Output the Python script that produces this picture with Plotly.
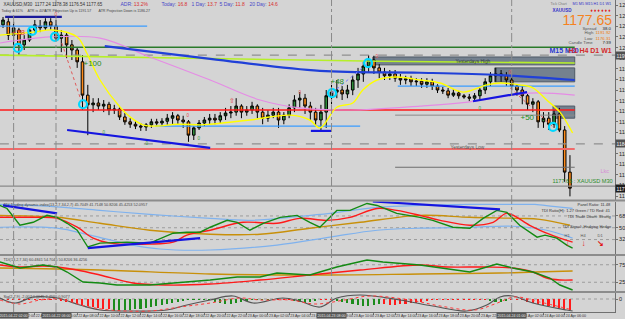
import plotly.graph_objects as go

BG = "#d4d4d4"
FONT = "Liberation Sans"

# ---------------- price data (XAUUSD, M30) ----------------
candle_idx = list(range(108))
opens = [1204.6, 1205.1, 1202.9, 1203.75, 1201.3, 1202.1, 1203.75, 1204.4, 1204.1, 1205.1,
         1204.4, 1202.4, 1202.9, 1201.3, 1200.45, 1198.5, 1193.0, 1191.4, 1191.7, 1191.2,
         1191.5, 1190.55, 1190.7, 1189.4, 1188.6, 1188.2, 1187.9, 1187.75, 1188.1, 1188.6,
         1188.4, 1188.7, 1189.2, 1189.6, 1188.9, 1188.6, 1186.4, 1187.6, 1188.4, 1188.9,
         1189.2, 1188.9, 1189.6, 1190.05, 1190.2, 1191.2, 1190.2, 1190.55, 1191.2, 1190.2,
         1189.2, 1189.7, 1190.2, 1188.9, 1189.7, 1190.9, 1192.2, 1192.5, 1191.2, 1190.2,
         1188.9, 1190.2, 1192.9, 1193.5, 1193.85, 1193.2, 1193.85, 1195.5, 1196.5, 1197.8,
         1198.8, 1197.5, 1196.8, 1196.2, 1196.5, 1195.8, 1195.5, 1195.7, 1195.2, 1195.3,
         1194.8, 1195.2, 1194.5, 1193.85, 1193.7, 1193.0, 1193.35, 1192.9, 1192.7, 1192.5,
         1192.9, 1193.85, 1195.2, 1196.2, 1196.5, 1196.2, 1195.5, 1194.5, 1193.85, 1192.9,
         1191.5, 1191.9, 1188.6, 1189.2, 1188.2, 1189.9, 1187.25, 1180.3]
closes = [1205.4, 1202.9, 1204.1, 1201.3, 1202.1, 1203.75, 1204.6, 1204.1, 1205.1, 1204.4,
          1202.4, 1202.9, 1201.3, 1200.45, 1198.5, 1193.0, 1191.4, 1191.7, 1191.2, 1191.5,
          1190.55, 1190.7, 1189.4, 1188.6, 1188.2, 1187.9, 1187.75, 1188.1, 1188.6, 1188.4,
          1188.7, 1189.2, 1189.6, 1188.9, 1188.6, 1186.4, 1187.6, 1188.4, 1188.9, 1189.2,
          1188.9, 1189.6, 1190.05, 1190.2, 1191.2, 1190.2, 1190.55, 1191.2, 1190.2, 1189.2,
          1189.7, 1190.2, 1188.9, 1189.7, 1190.9, 1192.2, 1192.5, 1191.2, 1190.2, 1188.9,
          1190.2, 1192.9, 1193.5, 1193.85, 1193.2, 1193.85, 1195.5, 1196.5, 1197.8, 1198.8,
          1197.5, 1196.8, 1196.2, 1196.5, 1195.8, 1195.5, 1195.7, 1195.2, 1195.3, 1194.8,
          1195.2, 1194.5, 1193.85, 1193.7, 1193.0, 1193.35, 1192.9, 1192.7, 1192.5, 1192.9,
          1193.85, 1195.2, 1196.2, 1196.5, 1196.2, 1195.5, 1194.5, 1193.85, 1192.9, 1191.5,
          1191.9, 1188.6, 1189.2, 1188.2, 1189.9, 1187.25, 1180.3, 1177.65]
highs = [1205.9, 1205.7, 1205.1, 1204.1, 1202.9, 1204.1, 1205.4, 1205.4, 1205.7, 1205.7,
         1205.4, 1203.75, 1203.4, 1202.1, 1200.8, 1199.6, 1194.7, 1192.5, 1192.5, 1192.2,
         1191.9, 1191.4, 1191.0, 1190.05, 1189.2, 1188.7, 1188.4, 1188.4, 1189.1, 1189.1,
         1189.2, 1189.9, 1190.2, 1189.9, 1189.6, 1188.9, 1187.9, 1188.9, 1189.4, 1189.9,
         1189.9, 1190.2, 1190.9, 1191.2, 1192.5, 1191.5, 1191.2, 1191.9, 1191.5, 1190.9,
         1190.55, 1190.9, 1190.9, 1190.2, 1191.5, 1193.0, 1193.5, 1193.2, 1191.9, 1190.9,
         1191.4, 1193.85, 1194.7, 1195.5, 1194.5, 1194.7, 1196.2, 1197.5, 1198.5, 1199.6,
         1199.5, 1198.1, 1197.5, 1197.15, 1197.15, 1196.5, 1196.2, 1196.2, 1195.8, 1195.8,
         1195.8, 1195.7, 1194.8, 1194.35, 1194.2, 1194.0, 1193.7, 1193.2, 1193.2, 1193.35,
         1194.2, 1195.8, 1196.8, 1197.5, 1197.15, 1196.8, 1196.2, 1194.8, 1194.5, 1193.2,
         1192.5, 1192.2, 1190.2, 1190.2, 1190.55, 1190.9, 1187.9, 1183.1]
lows = [1204.1, 1202.1, 1201.3, 1199.6, 1200.45, 1201.8, 1203.3, 1203.4, 1203.75, 1203.75,
        1202.1, 1200.1, 1199.1, 1198.8, 1197.5, 1190.55, 1186.4, 1190.2, 1190.55, 1190.2,
        1189.7, 1189.9, 1188.9, 1188.1, 1187.6, 1187.4, 1187.1, 1187.1, 1187.6, 1187.9,
        1187.9, 1188.1, 1188.2, 1188.2, 1187.6, 1185.3, 1185.6, 1187.25, 1187.9, 1188.2,
        1188.2, 1188.4, 1188.9, 1189.2, 1189.6, 1189.2, 1189.6, 1189.9, 1189.2, 1188.2,
        1188.6, 1189.2, 1187.6, 1188.2, 1189.2, 1190.2, 1190.9, 1189.9, 1188.9, 1187.9,
        1187.25, 1187.6, 1191.5, 1192.5, 1192.2, 1192.5, 1193.0, 1194.2, 1195.2, 1196.8,
        1196.5, 1195.8, 1195.5, 1195.5, 1195.2, 1194.7, 1194.8, 1194.5, 1194.5, 1194.2,
        1194.2, 1193.85, 1193.35, 1193.2, 1192.5, 1192.7, 1192.4, 1192.4, 1192.0, 1192.0,
        1192.2, 1193.2, 1194.5, 1195.2, 1195.2, 1194.5, 1193.85, 1192.9, 1191.5, 1190.55,
        1190.2, 1187.6, 1187.6, 1187.25, 1187.6, 1186.9, 1178.7, 1176.3]

# time axis labels
tick_idx = [2, 6, 10, 14, 18, 22, 26, 30, 34, 38, 42, 46, 50, 54, 58, 62, 66, 70, 74, 78,
            82, 86, 90, 94, 98, 102, 106]
tick_labels = ["22 Apr 02:00", "22 Apr 04:00", "22 Apr 06:00", "22 Apr 08:00", "22 Apr 10:00",
               "22 Apr 12:00", "22 Apr 14:00", "22 Apr 16:00", "22 Apr 18:00", "22 Apr 20:00",
               "22 Apr 22:00", "23 Apr 00:00", "23 Apr 02:00", "23 Apr 04:00", "23 Apr 06:00",
               "23 Apr 08:00", "23 Apr 10:00", "23 Apr 12:00", "23 Apr 14:00", "23 Apr 16:00",
               "23 Apr 18:00", "23 Apr 20:00", "23 Apr 22:00", "24 Apr 00:00", "24 Apr 02:00",
               "24 Apr 04:00", "24 Apr 06:00"]
vline_idx = [2, 10, 62, 96]
vline_labels = ["2015.04.22 02:00", "2015.04.22 06:00", "2015.04.23 08:00", "2015.04.24 01:00"]

# horizontal levels (price) and their spans (candle index)
top_blue_level, top_blue_span = 1205.9, [0.4, 11.1]
top_sky_level, top_sky_span = 1204.4, [-0.6, 27.2]
green_level, green_span = 1200.9, [-0.6, 107.9]
yhigh_dash_level = 1199.6
red_level, red_span = 1190.55, [-0.6, 107.9]
gray_mid_level, gray_mid_span = 1189.7, [74.0, 107.9]
sky_mid_level, sky_mid_span = 1187.9, [28.7, 67.4]
sky_right_level, sky_right_span = 1194.5, [74.5, 107.9]
ylow_dash_level = 1184.95
salmon_level, salmon_span = 1184.1, [-0.6, 107.9]
dgray_level, dgray_span = 1181.1, [74.0, 107.9]
bid_level = 1178.0

# moving averages on price
lime_x = [-0.6, 39.1, 71.1, 107.9]
lime_y = [1199.6, 1199.1, 1198.6, 1198.3]
blue_ma_x = [19.2, 39.1, 59.8, 78.7, 93.8, 107.9]
blue_ma_y = [1201.1, 1199.0, 1197.0, 1196.7, 1196.3, 1195.5]
pink_ma_x = [-0.6, 8.9, 18.3, 27.7, 39.1, 48.5, 56.0, 65.5, 78.7, 88.1, 99.4, 107.9]
pink_ma_y = [1201.6, 1202.6, 1202.4, 1199.3, 1195.5, 1192.2, 1190.9, 1190.55, 1191.2, 1191.9,
             1193.35, 1193.0]
yellow_ma_x = [-0.6, 5.7, 9.4, 14.0, 15.8, 18.3, 22.1, 24.0, 26.4, 29.1, 32.8, 37.2, 39.1, 46.6,
               54.2, 57.9, 59.8, 63.0, 66.0, 67.9, 70.6, 74.3, 78.7, 82.5, 86.8, 91.3, 93.8,
               97.5, 100.0, 102.6, 105.1, 107.5]
yellow_ma_y = [1202.9, 1203.4, 1203.75, 1202.6, 1199.95, 1195.5, 1191.0, 1189.4, 1188.1, 1187.9,
               1188.2, 1188.1, 1188.2, 1188.9, 1189.7, 1188.9, 1187.6, 1191.0, 1191.7, 1193.85,
               1195.5, 1196.0, 1195.5, 1195.0, 1193.5, 1194.7, 1195.0, 1194.7, 1194.2, 1192.2,
               1190.2, 1186.75]

# trendlines
tl_low_x, tl_low_y = [12.1, 39.1], [1187.25, 1184.3]
tl_box_x, tl_box_y = [58.1, 61.9], [1187.1, 1187.1]
tl_right_x, tl_right_y = [88.7, 98.9], [1192.0, 1193.5]
zz1_x, zz1_y = [11.1, 14.9], [1201.6, 1191.7]
zz2_x, zz2_y = [62.1, 68.9], [1193.35, 1198.3]
zz3_x, zz3_y = [95.7, 103.8], [1194.2, 1187.75]

# zones
zones_x0 = [69.8, 92.8, 103.8]
zones_x1 = [107.9, 107.9, 107.9]
zones_lo = [1198.0, 1195.2, 1189.2]
zones_hi = [1199.3, 1197.5, 1191.2]

# swing markers
swing_x = [2.8, 5.5, 9.8, 15.1, 62.1, 68.9, 103.8]
swing_y = [1200.8, 1203.6, 1202.6, 1191.5, 1193.35, 1198.3, 1187.75]
gain_text = ["+28", "+100", "+48", "+50"]
gain_x = [3.0, 17.0, 63.2, 98.9]
gain_y = [1203.4, 1198.3, 1195.3, 1189.4]
red_mark_x = [22.0, 35.0, 56.0, 70.6, 95.7, 10.0]
red_mark_y = [1190.2, 1189.7, 1193.5, 1199.4, 1196.8, 1206.4]
green_mark_x = [19.1, 27.2, 37.0, 90.0]
green_mark_y = [1186.9, 1185.1, 1185.9, 1190.9]

# ---------------- TDI sub window ----------------
tdi_green_x = [-0.6, 0.75, 3.2, 5.7, 8.3, 10.2, 12.1, 14.0, 16.0, 18.3, 23.4, 27.7, 32.1, 34.7,
               37.2, 39.1, 42.3, 44.2, 46.6, 49.1, 52.3, 55.5, 57.9, 59.8, 63.0, 65.5, 68.7,
               70.6, 74.3, 78.7, 81.1, 84.9, 88.1, 90.6, 93.2, 95.1, 97.5, 100.8, 102.3, 104.5,
               106.4, 107.5]
tdi_green_y = [84.0, 79.4, 53.8, 58.3, 68.9, 65.9, 56.8, 46.2, 20.6, 26.6, 28.1, 26.6, 41.7, 43.2,
               43.2, 50.8, 61.3, 58.3, 46.2, 56.8, 65.9, 68.9, 58.3, 50.8, 76.4, 76.4, 87.0, 84.0,
               71.9, 65.9, 61.3, 50.8, 49.3, 64.3, 76.4, 73.4, 53.8, 35.7, 38.7, 34.2, 23.6, 19.1]
tdi_red_x = [-0.6, 5.7, 10.2, 14.0, 17.0, 20.2, 27.7, 32.1, 34.7, 39.1, 45.3, 51.7, 56.0, 61.1,
             65.5, 70.6, 74.3, 78.7, 82.5, 88.1, 92.5, 95.1, 99.4, 102.6, 105.1, 107.5]
tdi_red_y = [65.9, 65.9, 64.3, 50.8, 34.2, 26.6, 25.1, 28.1, 38.7, 46.2, 58.3, 56.8, 64.3, 61.3,
             65.9, 79.4, 76.4, 68.9, 61.3, 53.8, 58.3, 71.9, 53.8, 41.7, 34.2, 28.1]
tdi_base_x = [-0.6, 10.2, 18.3, 27.7, 39.1, 48.5, 57.9, 67.4, 78.7, 88.1, 97.5, 101.3, 107.0]
tdi_base_y = [68.9, 65.9, 56.8, 46.2, 40.2, 40.2, 49.3, 58.3, 68.9, 65.9, 64.3, 62.8, 53.8]
tdi_up_x = [-0.6, 8.9, 18.3, 27.7, 39.1, 46.6, 56.0, 61.7, 70.6, 78.7, 88.1, 97.5, 100.4, 103.8,
            107.5]
tdi_up_y = [85.5, 82.5, 76.4, 70.4, 64.3, 61.3, 67.4, 71.9, 80.9, 84.0, 85.5, 85.5, 85.5, 82.5,
            79.4]
tdi_dn_x = [-0.6, 10.2, 16.4, 24.5, 29.6, 39.1, 51.7, 61.7, 70.6, 78.7, 88.1, 96.2, 102.6, 107.5]
tdi_dn_y = [50.8, 49.3, 38.7, 23.6, 17.6, 16.1, 23.6, 35.7, 46.2, 49.3, 50.8, 52.3, 46.2, 34.2]
tdi_tl1_x, tdi_tl1_y = [0.0, 10.2], [84.0, 71.9]
tdi_tl2_x, tdi_tl2_y = [16.0, 37.2], [19.1, 34.2]
tdi_tl3_x, tdi_tl3_y = [69.8, 93.8], [90.0, 77.9]
tdi_levels = [68, 50, 32]

# ---------------- second oscillator ----------------
osc_base_x = [-0.6, 18.3, 39.1, 57.9, 78.7, 93.8, 107.5]
osc_base_y = [65.7, 60.0, 48.6, 45.7, 48.6, 51.4, 57.1]
osc_red_x = [-0.6, 3.2, 7.5, 10.2, 14.0, 18.3, 24.5, 30.9, 39.1, 48.5, 57.9, 67.4, 78.7, 83.8,
             91.3, 96.2, 100.0, 102.6, 105.1, 107.5]
osc_red_y = [74.3, 68.6, 71.4, 68.6, 60.0, 45.7, 22.9, 17.1, 20.0, 31.4, 45.7, 60.0, 74.3, 68.6,
             68.6, 65.7, 54.3, 37.1, 31.4, 31.4]
osc_green_x = [-0.6, 1.3, 3.2, 7.5, 10.2, 12.1, 15.1, 18.3, 21.5, 27.7, 32.8, 39.1, 44.2, 48.5,
               51.7, 57.9, 63.0, 68.7, 71.7, 78.7, 88.1, 91.3, 93.2, 96.2, 100.0, 103.2, 105.1,
               107.5]
osc_green_y = [82.9, 74.3, 65.7, 74.3, 68.6, 54.3, 25.7, 22.9, 17.1, 17.1, 22.9, 31.4, 40.0, 40.0,
               51.4, 45.7, 68.6, 88.6, 82.9, 74.3, 54.3, 68.6, 77.1, 65.7, 54.3, 37.1, 17.1, 2.9]
osc_levels = [75, 25]

# ---------------- histogram sub window ----------------
hist_vals = [-1, -1, -1, -1, -1, -1, -1, -1, -1, -1, -1,
             -2, -3, -4, -5, -6, -7, -8, -9, -10, -10,
             -12, -12, -11, -11, -10, -10, -9, -8,
             -7, -6, -5, -4, -3, -2,
             -1, -1, -1, -1, -1,
             -3, -4, -5, -5, -4, -3, -2, -1,
             -1, -1, -1, -1, -1, -1,
             -1, -2, -3, -4, -3, -2,
             -1, -1, -1,
             -2, -3, -4, -5, -6, -7, -7, -6, -5,
             -5, -6, -6, -5, -5, -4, -4, -3, -2, -1,
             -1, -1, -1, -1, -1, -1, -1, -1, -1, -1,
             -2, -3, -3, -2,
             -1, -1, -1,
             -3, -4, -5, -6, -7, -8, -9, -10, -11]
hist_rising = ([0] * 21 + [1] * 8 + [1] * 6 + [1] * 5 + [1] * 8 + [1] * 4 + [0] * 2 +
               [0] + [1] * 5 + [0] * 3 + [1] * 9 + [0] * 10 + [0] * 10 + [1] * 4 + [0] * 3 +
               [0] * 9)
sig_x = [-0.6, 2.3, 5.7, 10.2, 14.5, 18.3, 24.5, 30.9, 34.7, 39.1, 43.4, 47.2, 52.8, 56.0, 59.8,
         63.0, 67.4, 74.9, 81.1, 87.5, 91.3, 93.8, 96.2, 100.0, 106.4, 107.5]
sig_y = [1, -4, 2, 1, -6, -11, -12, -11, -6, -1, 3, -4, 1, -2, -8, 1, 4, -1, -7, -12, -6, 2, 3,
         -4, -11, -12]
sig2_x = [-0.6, 3.2, 7.0, 10.8, 15.5, 20.2, 27.7, 33.4, 39.1, 44.7, 48.5, 54.2, 58.9, 64.5, 69.2,
          76.8, 82.5, 89.1, 92.8, 96.6, 101.3, 107.5]
sig2_y = [-1, -5, -1, 0, -7, -11, -12, -8, -4, 1, -1, -1, -5, -1, 3, -1, -7, -11, -5, 2, -3, -11]

# ---------------- figure ----------------
PW, PH = 615.0, 312.0


def px(x):
    return x / PW


def py(y):
    return (PH - y) / PH


fig = go.Figure()


def line(xs, ys, color, width=1.0, dash="solid", yaxis="y", shape="linear"):
    fig.add_trace(go.Scatter(x=xs, y=ys, mode="lines", xaxis="x", yaxis=yaxis,
                             line=dict(color=color, width=width, dash=dash, shape=shape),
                             hoverinfo="skip", showlegend=False))


def hline(level, span, color, width=1.0, dash="solid"):
    line(span, [level, level], color, width, dash)


shapes = []
for x0, x1, lo, hi in zip(zones_x0, zones_x1, zones_lo, zones_hi):
    shapes.append(dict(type="rect", xref="x", yref="y", x0=x0, x1=x1, y0=lo, y1=hi,
                       fillcolor="#74818f", line=dict(color="#4f5a66", width=1), layer="below"))

hline(top_sky_level, top_sky_span, "#3a9cff", 1.3)
hline(top_blue_level, top_blue_span, "#1a1a9a", 2.2)
hline(green_level, green_span, "#2a7a2a", 1.6)
hline(yhigh_dash_level, [-0.6, 115.5], "#8f8f8f", 1.2, "dash")
line(lime_x, lime_y, "#b6ef2a", 1.6)
hline(red_level, red_span, "#ff1a1a", 1.5)
hline(gray_mid_level, gray_mid_span, "#8a8a8a", 1.0)
hline(sky_mid_level, sky_mid_span, "#3a9cff", 1.3)
hline(sky_right_level, sky_right_span, "#3a9cff", 1.3)
hline(ylow_dash_level, [-0.6, 115.5], "#8f8f8f", 1.2, "dash")
hline(salmon_level, salmon_span, "#f06a6a", 2.0)
hline(dgray_level, dgray_span, "#6e6e6e", 1.2)
hline(bid_level, [-0.6, 115.5], "#8a8a8a", 1.2)
line(pink_ma_x, pink_ma_y, "#e58ce5", 1.2, shape="spline")
line(blue_ma_x, blue_ma_y, "#2040d8", 2.2, shape="spline")
line(yellow_ma_x, yellow_ma_y, "#ffff00", 1.4, shape="spline")
line(zz1_x, zz1_y, "#e05a5a", 1.0, "dot")
line(zz2_x, zz2_y, "#7a7aff", 1.0, "dot")
line(zz3_x, zz3_y, "#e05a5a", 1.0, "dot")
line(tl_low_x, tl_low_y, "#1515e0", 2.2)
line(tl_box_x, tl_box_y, "#1515e0", 2.2)
line(tl_right_x, tl_right_y, "#1515e0", 2.2)

fig.add_trace(go.Candlestick(
    x=candle_idx, open=opens, high=highs, low=lows, close=closes, xaxis="x", yaxis="y",
    increasing=dict(line=dict(color="#000000", width=1), fillcolor="#2e8b3a"),
    decreasing=dict(line=dict(color="#000000", width=1), fillcolor="#ff8c1a"),
    whiskerwidth=0, hoverinfo="skip", showlegend=False))

fig.add_trace(go.Scatter(x=swing_x, y=swing_y, mode="markers", xaxis="x", yaxis="y",
                         marker=dict(symbol="circle-open", size=8, color="#00d8ff",
                                     line=dict(width=2.2, color="#00d8ff")),
                         hoverinfo="skip", showlegend=False))

# TDI window
for lv in tdi_levels:
    shapes.append(dict(type="line", xref="paper", yref="y2", x0=0, x1=1, y0=lv, y1=lv,
                       line=dict(color="#9c9c9c", width=1, dash="dot"), layer="below"))
line(tdi_up_x, tdi_up_y, "#7fb2ee", 1.2, yaxis="y2", shape="spline")
line(tdi_dn_x, tdi_dn_y, "#7fb2ee", 1.2, yaxis="y2", shape="spline")
line(tdi_base_x, tdi_base_y, "#c8900a", 1.4, yaxis="y2", shape="spline")
line(tdi_red_x, tdi_red_y, "#ff1a1a", 1.4, yaxis="y2", shape="spline")
line(tdi_green_x, tdi_green_y, "#138a13", 1.4, yaxis="y2")
line(tdi_tl1_x, tdi_tl1_y, "#1515e0", 2.2, yaxis="y2")
line(tdi_tl2_x, tdi_tl2_y, "#1515e0", 2.2, yaxis="y2")
line(tdi_tl3_x, tdi_tl3_y, "#1515e0", 2.2, yaxis="y2")

# oscillator window
for lv in osc_levels:
    shapes.append(dict(type="line", xref="paper", yref="y3", x0=0, x1=1, y0=lv, y1=lv,
                       line=dict(color="#9c9c9c", width=1, dash="dot"), layer="below"))
line(osc_base_x, osc_base_y, "#c8900a", 1.4, yaxis="y3", shape="spline")
line(osc_red_x, osc_red_y, "#ff1a1a", 1.4, yaxis="y3", shape="spline")
line(osc_green_x, osc_green_y, "#138a13", 1.4, yaxis="y3")

# histogram window
shapes.append(dict(type="line", xref="paper", yref="y4", x0=0, x1=1, y0=0, y1=0,
                   line=dict(color="#9c9c9c", width=1, dash="dot"), layer="below"))
fig.add_trace(go.Bar(x=candle_idx, y=hist_vals, xaxis="x", yaxis="y4", width=0.3,
                     marker=dict(color=["#1c8c1c" if r else "#ff1a1a" for r in hist_rising],
                                 line=dict(width=0)),
                     hoverinfo="skip", showlegend=False))
line(sig_x, sig_y, "#555555", 1.2, yaxis="y4", shape="spline")
line(sig2_x, sig2_y, "#ff3a3a", 1.0, "dot", yaxis="y4", shape="spline")

for ysep in [200.5, 255.0, 292.0]:
    shapes.append(dict(type="line", xref="paper", yref="paper", x0=0, x1=625 / PW,
                       y0=py(ysep), y1=py(ysep), line=dict(color="#8c8c8c", width=2)))
for vx in vline_idx:
    shapes.append(dict(type="line", xref="x", yref="paper", x0=vx, x1=vx, y0=0, y1=1,
                       line=dict(color="#8a8a8a", width=1, dash="dashdot")))

ann = []


def t(x, y, text, color="#333333", size=5, xanchor="left", xref="paper", yref="paper",
      bold=False, bg=None):
    d = dict(x=x, y=y, xref=xref, yref=yref, text=("<b>%s</b>" % text) if bold else text,
             showarrow=False, xanchor=xanchor, yanchor="middle",
             font=dict(family=FONT, size=size, color=color), borderpad=0.5)
    if bg:
        d["bgcolor"] = bg
    ann.append(d)


# header rows
t(px(2), py(4), "XAUUSD,M30  1177.24 1178.38 1176.54 1177.65", "#333", 4.5)
t(px(119), py(4), "<span style='color:#4646c8'>ADR:</span> <span style='color:#d83030'>13.2%</span>", size=5)
t(px(160), py(4), "<span style='color:#4646c8'>Today:</span> <span style='color:#d83030'>16.8</span>", size=5)
t(px(190), py(4), "<span style='color:#4646c8'>1 Day:</span> <span style='color:#d83030'>13.7</span>", size=5)
t(px(218), py(4), "<span style='color:#4646c8'>5 Day:</span> <span style='color:#d83030'>11.8</span>", size=5)
t(px(248), py(4), "<span style='color:#4646c8'>20 Day:</span> <span style='color:#d83030'>14.6</span>", size=5)
t(px(0), py(11), "Today is 61%", "#444", 3.6)
t(px(26), py(11), "ATR is 40%", "#444", 3.6)
t(px(43), py(11), "ATR Projection Up is 1191.57", "#444", 3.6)
t(px(97), py(11), "ATR Projection Down is 1186.27", "#444", 3.6)

# right info panel
t(px(568), py(4), "Tick Chart", "#777", 3.6, "right")
t(px(613), py(4), "M1 M5 M15 H1 D1 W1", "#3232c8", 3.8, "right")
t(px(574), py(10.5), "XAUUSD", "#3232c8", 4.5, "right", bold=True)
t(px(613), py(10.5), "\u2666 \u2666 \u2666 \u2666 \u2666 \u2666", "#e02020", 4.5, "right")
t(px(614), py(19.5), "1177.65", "#f5821f", 14, "right")
t(px(598), py(27.5), "Spread", "#555", 4.3, "right")
t(px(613), py(27.5), "38.0", "#222", 4.3, "right")
t(px(595), py(32.5), "High", "#555", 4.3, "right")
t(px(613), py(32.5), "1191.92", "#f07a10", 4.3, "right")
t(px(595), py(37.5), "Low", "#555", 4.3, "right")
t(px(613), py(37.5), "1176.31", "#f07a10", 4.3, "right")
t(px(595), py(42.5), "Candle Time", "#555", 4.3, "right")
t(px(613), py(42.5), "7:39", "#222", 4.3, "right")
t(px(548), py(50), "M15 M30", "#2a3ad0", 7, "left", bold=True)
t(px(613), py(50), "H1 H4 D1 W1", "#d42a2a", 7, "right", bold=True)

# main chart labels (data coords)
for txt, gx, gy in zip(gain_text, gain_x, gain_y):
    t(gx, gy, txt, "#e33a3a" if txt == "+28" else "#1e8c1e", 8, "center", "x", "y")
for mx, my in zip(red_mark_x, red_mark_y):
    t(mx, my, "0", "#e05050", 4.5, "center", "x", "y")
for mx, my in zip(green_mark_x, green_mark_y):
    t(mx, my, "0", "#3aa03a", 4.5, "center", "x", "y")
t(43.2, 1192.2, "\u21e7", "#e04040", 7, "center", "x", "y")
t(88.7, 1198.65, "Yesterdays High", "#2f3a44", 4.8, "center", "x", "y")
t(87.7, 1184.45, "Yesterdays Low", "#555", 4.8, "center", "x", "y")
t(114.8, 1180.6, "Lkc", "#d68ad6", 5.5, "right", "x", "y")
t(115.3, 1179.0, "1177.65 : XAUUSD M30", "#2a8a2a", 5.6, "right", "x", "y")

# price boxes on the axis
t(1.0, yhigh_dash_level, "1199.60", "#eeeeee", 5, "left", "paper", "y", bg="#505050")
t(1.0, ylow_dash_level, "1184.95", "#eeeeee", 5, "left", "paper", "y", bg="#505050")
t(1.0, closes[-1], "1177.65", "#ffffff", 5, "left", "paper", "y", bg="#1e1e1e")

# sub-window titles / info
t(px(2), py(204), "TDI Trading dynamic index(13,2,7,34,2,7) 45.7049 41.7148 50.8206 45.4253 52.0957", "#444", 3.8)
t(px(2), py(259), "TDI(13,2,7,34) 60.4841 54.7045 50.8206 36.4256", "#444", 3.8)
t(px(2), py(296.5), "Sig(2,7,9) -2.007 0.0045 2.4960 0.9077", "#444", 3.8)
t(px(612), py(204), "Panel Ratio: 11.48", "#333", 4, "right")
t(px(612), py(210), "TDI Ratio(H): 1.27 Green / TD Red: 41", "#333", 4, "right")
t(px(612), py(216), "TDI Trade Down: Strong", "#333", 4, "right")
t(px(587), py(226), "TDI Signal: Hedging Hedge", "#333", 4, "center")
t(px(567), py(235), "H1", "#555", 4, "center")
t(px(583), py(235), "H4", "#555", 4, "center")
t(px(600), py(235), "D1", "#555", 4, "center")
t(px(567), py(243), "\u2193", "#e01818", 8, "center", bold=True)
t(px(583), py(243), "\u2193", "#e01818", 8, "center", bold=True)
t(px(600), py(243), "\u2198", "#e01818", 8, "center", bold=True)

# time-axis highlighted boxes
for vx, lab in zip(vline_idx, vline_labels):
    t(vx, py(315.5), lab, "#eeeeee", 3.6, "center", "x", "paper", bg="#555555")

axis_common = dict(side="right", anchor="x", showgrid=False, zeroline=False, showline=True,
                   linecolor="#707070", linewidth=1, ticks="outside", ticklen=2,
                   tickcolor="#707070", tickfont=dict(family=FONT, size=5.5, color="#222"),
                   fixedrange=True, automargin=False)

fig.update_layout(
    width=625, height=319, margin=dict(l=0, r=10, t=0, b=7, autoexpand=False),
    paper_bgcolor=BG, plot_bgcolor=BG, showlegend=False, bargap=0,
    font=dict(family=FONT),
    xaxis=dict(domain=[0, 1], range=[-0.57, 115.5], anchor="y4", showgrid=False,
               zeroline=False, showline=True, linecolor="#707070", tickvals=tick_idx,
               ticktext=tick_labels, ticks="outside", ticklen=2, tickcolor="#707070",
               tickangle=0, automargin=False,
               tickfont=dict(family=FONT, size=3.6, color="#333"),
               ticklabelposition="outside right", rangeslider=dict(visible=False),
               fixedrange=True),
    yaxis=dict(domain=[py(200), 1], range=[1175.7, 1208.7], tick0=1176.35, dtick=1.75,
               tickformat=".2f", **axis_common),
    yaxis2=dict(domain=[py(254), py(201.5)], range=[10, 90], tickvals=tdi_levels,
                **axis_common),
    yaxis3=dict(domain=[py(291), py(256)], range=[0, 100], tickvals=osc_levels,
                **axis_common),
    yaxis4=dict(domain=[0, py(293)], range=[-13, 6], tickvals=[0], **axis_common),
    shapes=shapes, annotations=ann,
)

fig.write_html("out.html")
